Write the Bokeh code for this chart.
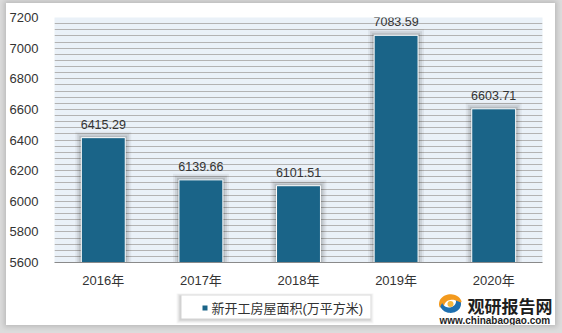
import numpy as np
from bokeh.plotting import figure
from bokeh.models import FactorRange, Range1d, FixedTicker
from bokeh.layouts import column, row
from bokeh.core.properties import value
from bokeh.embed import file_html
from bokeh.resources import INLINE

# ---- data ----
years = ["2016年", "2017年", "2018年", "2019年", "2020年"]
values = [6415.29, 6139.66, 6101.51, 7083.59, 6603.71]
value_labels = ["6415.29", "6139.66", "6101.51", "7083.59", "6603.71"]
y_ticks = [5600, 5800, 6000, 6200, 6400, 6600, 6800, 7000, 7200]
series_name = "新开工房屋面积(万平方米)"
brand = "观研报告网"
site = "www.chinabaogao.com"

FONT = "'Liberation Sans', 'Noto Sans CJK SC', sans-serif"
CJK = "'Noto Sans CJK SC', 'Liberation Sans', sans-serif"
BAR = "#1a6488"

Y0, Y1 = 5600, 7200
W, H = 549, 290
ML, MR, MT, MB = 47, 13, 14, 31
frame_w = W - ML - MR
frame_h = H - MT - MB
ux = len(years) / frame_w          # data units per px (x)
uy = (Y1 - Y0) / frame_h           # data units per px (y)

p = figure(width=W, height=H, x_range=FactorRange(*years), y_range=Range1d(Y0, Y1),
           output_backend="svg", toolbar_location=None,
           min_border_left=ML, min_border_right=MR, min_border_top=MT, min_border_bottom=MB,
           background_fill_color="#eaf1f8", border_fill_color="white",
           outline_line_color=None)

p.xgrid.grid_line_color = None
p.ygrid.ticker = FixedTicker(ticks=list(np.arange(Y0, Y1 + 1, 40)))
p.ygrid.grid_line_color = "#b3b3b3"
p.ygrid.grid_line_width = 1

p.yaxis.ticker = FixedTicker(ticks=y_ticks)
p.yaxis.axis_line_color = None
p.yaxis.major_tick_line_color = None
p.yaxis.minor_tick_line_color = None
p.yaxis.major_label_standoff = 10
p.yaxis.major_label_text_font = FONT
p.yaxis.major_label_text_font_size = "13px"
p.yaxis.major_label_text_color = "#333333"

p.xaxis.axis_line_color = "#8a8a8a"
p.xaxis.axis_line_width = 1
p.xaxis.major_tick_line_color = None
p.xaxis.minor_tick_line_color = None
p.xaxis.major_label_standoff = 4
p.xaxis.major_label_text_font = FONT
p.xaxis.major_label_text_font_size = "13px"
p.xaxis.major_label_text_color = "#333333"

# bar shadows
bw = 0.45
for ext, a in [(6, 0.05), (4, 0.08), (2, 0.11)]:
    p.vbar(x=years, top=[v + ext * uy for v in values], bottom=Y0, width=bw + 2 * ext * ux,
           fill_color="black", fill_alpha=a, line_color=None)

bars = p.vbar(x=years, top=values, bottom=Y0, width=bw, fill_color=BAR,
              line_color="white", line_width=1)

p.text(x=years, y=values, text=value_labels, text_align="center", text_baseline="bottom",
       y_offset=-9, text_font=value(FONT), text_font_size="12.5px", text_color="#333333")

# ---- bottom strip: legend + watermark (pixel coordinates, y downward) ----
QH = 32
q = figure(width=W, height=QH, x_range=Range1d(0, W), y_range=Range1d(QH, 0),
           output_backend="svg", toolbar_location=None, x_axis_type=None, y_axis_type=None,
           min_border=0, min_border_left=0, min_border_right=0, min_border_top=0,
           min_border_bottom=0, background_fill_color="white", border_fill_color="white",
           outline_line_color=None)
q.xgrid.visible = False
q.ygrid.visible = False

# legend box with soft shadow
lx0, lx1, ly0, ly1 = 175, 364, 2, 25
for ext, a in [(4, 0.03), (3, 0.04), (2, 0.05), (1, 0.06)]:
    q.quad(left=[lx0 - ext - 1], right=[lx1 + ext - 1], top=[ly0 - ext + 1], bottom=[ly1 + ext + 1],
           fill_color="black", fill_alpha=a, line_color=None)
q.quad(left=[lx0], right=[lx1], top=[ly0], bottom=[ly1], fill_color="white", line_color=None)
q.quad(left=[196], right=[201], top=[12], bottom=[17], fill_color=BAR, line_color=None)
q.text(x=[205], y=[15], text=[series_name], text_font=value(FONT), text_font_size="13px",
       text_color="#333333", text_baseline="middle", text_align="left")

# watermark text
q.text(x=[461], y=[11.5], text=[brand], text_font=value(CJK), text_font_size="17px",
       text_font_style="bold", text_color="#1e1e1e", text_baseline="middle", text_align="left")
q.text(x=[433], y=[26.5], text=[site], text_font=value(FONT), text_font_size="10px",
       text_font_style="bold", text_color="#1e1e1e", text_baseline="middle", text_align="left")

# logo swirl
cx, cy = 444, 10.5
def crescent(a0, a1, r_out, r_in, off):
    t = np.linspace(np.radians(a0), np.radians(a1), 24)
    xo = cx + r_out * np.cos(t)
    yo = cy - r_out * 0.85 * np.sin(t)
    xi = cx + off[0] + r_in * np.cos(t[::-1])
    yi = cy + off[1] - r_in * 0.85 * np.sin(t[::-1])
    return list(np.concatenate([xo, xi])), list(np.concatenate([yo, yi]))

ox, oy = crescent(15, 200, 11.5, 8, (1.5, 2.5))
q.patch(ox, oy, fill_color="#f39a1e", line_color=None)
bx_, by_ = crescent(195, 370, 10.5, 7, (-1.5, -2.5))
q.patch(bx_, by_, fill_color="#1d6fb0", line_color=None)
q.circle(x=[cx], y=[cy], radius=3, fill_color="#f6b73c", line_color=None)

top_box = row(p, width=W, height=H)
bottom_box = row(q, width=W, height=QH)
card = column(top_box, bottom_box, width=W, height=H + QH, spacing=0, margin=(3, 7, 8, 6),
              styles={"background-color": "white",
                      "box-shadow": "0 0 5px 2px rgba(0,0,0,0.15)"})
layout = column(card, width=562, height=333, styles={"background-color": "#dcdcdc"})

open("out.html", "w").write(file_html(layout, INLINE))
